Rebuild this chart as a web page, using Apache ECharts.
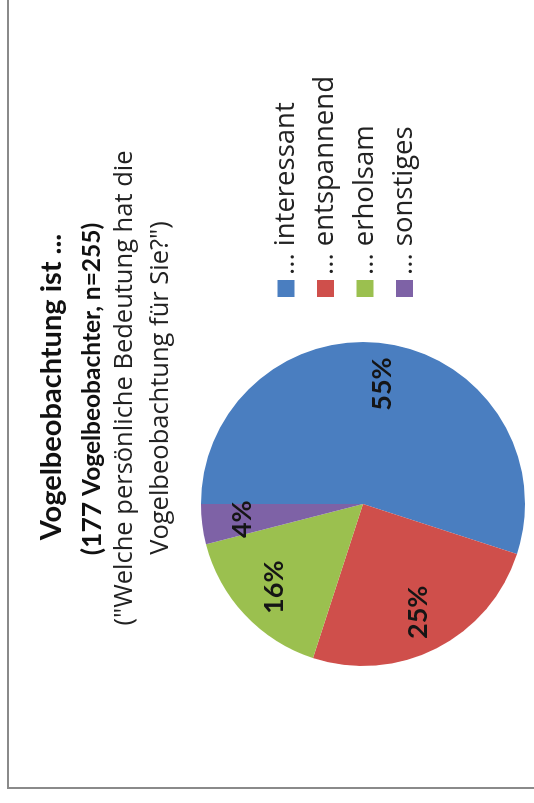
<!DOCTYPE html>
<html>
<head>
<meta charset="utf-8">
<script src="https://cdn.jsdelivr.net/npm/echarts@6/dist/echarts.min.js"></script>
<style>
  html, body { margin: 0; padding: 0; background: #ffffff; overflow: hidden; }
  body { width: 534px; height: 803px; position: relative; }
  /* the chart is laid out landscape and turned a quarter counter-clockwise */
  #chart {
    position: absolute; left: 0; top: 0;
    width: 803px; height: 534px;
    transform-origin: 0 0;
    transform: translate(0, 803px) rotate(-90deg);
  }
</style>
</head>
<body>
<div id="chart"></div>
<script>
// Survey answers: what bird watching means to the respondents (percent)
const categories = ['... interessant', '... entspannend', '... erholsam', '... sonstiges'];
const shares = [55, 25, 16, 4];
const sliceColors = ['#4a7ec0', '#cf4f4b', '#9bc04f', '#7e62a6'];

const titleText = 'Vogelbeobachtung ist ...';
const sampleLead = '(177';
const sampleRest = ' Vogelbeobachter, n=255)';
const questionText = '("Welche persönliche Bedeutung hat die\nVogelbeobachtung für Sie?")';

const FONT = 'Lato, "Open Sans", sans-serif';
const FONT_REG = '"Open Sans", Lato, sans-serif';

const pieData = categories.map((name, i) => ({
  name: name,
  value: shares[i],
  itemStyle: { color: sliceColors[i] }
}));

const chart = echarts.init(document.getElementById('chart'), null, { renderer: 'canvas' });

chart.setOption({
  backgroundColor: '#ffffff',
  animation: false,
  textStyle: { fontFamily: FONT },
  title: [
    {
      text: titleText,
      left: 416, top: 36, padding: 0,
      textAlign: 'center',
      textStyle: { fontFamily: FONT, fontSize: 29, fontWeight: 'bold', color: '#111111', lineHeight: 32 }
    },
    {
      text: '{a|' + sampleLead + '}{b|' + sampleRest + '}',
      left: 414, top: 79, padding: 0,
      textAlign: 'center',
      textStyle: {
        fontFamily: FONT, color: '#111111', lineHeight: 26,
        rich: {
          a: { fontFamily: FONT, fontSize: 26.5, fontWeight: 'bold', color: '#111111', lineHeight: 26 },
          b: { fontFamily: FONT, fontSize: 24.5, fontWeight: 'bold', color: '#111111', lineHeight: 26 }
        }
      }
    },
    {
      text: questionText,
      left: 415, top: 107, padding: 0,
      textAlign: 'center',
      textStyle: { fontFamily: FONT_REG, fontSize: 25.5, fontWeight: 'normal', color: '#222222', lineHeight: 36 }
    }
  ],
  legend: {
    orient: 'vertical',
    left: 506, top: 271, padding: 0,
    itemWidth: 17, itemHeight: 17, itemGap: 9.5,
    icon: 'rect',
    data: categories,
    textStyle: { fontFamily: FONT_REG, fontSize: 27.5, color: '#222222', lineHeight: 30, padding: [0, 0, 0, 0] }
  },
  graphic: [
    {
      type: 'rect',
      silent: true,
      shape: { x: 15, y: 8, width: 820, height: 560 },
      style: { fill: 'none', stroke: '#8a8a8a', lineWidth: 2 }
    }
  ],
  series: [
    {
      type: 'pie',
      center: [299, 363],
      radius: [0, 162],
      startAngle: 90,
      clockwise: true,
      silent: true,
      label: { show: false },
      labelLine: { show: false },
      itemStyle: { borderWidth: 0 },
      data: pieData
    },
    {
      // transparent ring that carries the percent labels further out
      type: 'pie',
      center: [299, 363],
      radius: [75, 162],
      startAngle: 90,
      clockwise: true,
      silent: true,
      legendHoverLink: false,
      itemStyle: { color: 'rgba(0,0,0,0)', borderWidth: 0 },
      label: {
        show: true,
        position: 'inside',
        formatter: '{c}%',
        fontFamily: FONT,
        fontSize: 27,
        fontWeight: 'bold',
        color: '#151515'
      },
      labelLine: { show: false },
      data: categories.map((name, i) => ({ name: name, value: shares[i] }))
    }
  ]
});
</script>
</body>
</html>
